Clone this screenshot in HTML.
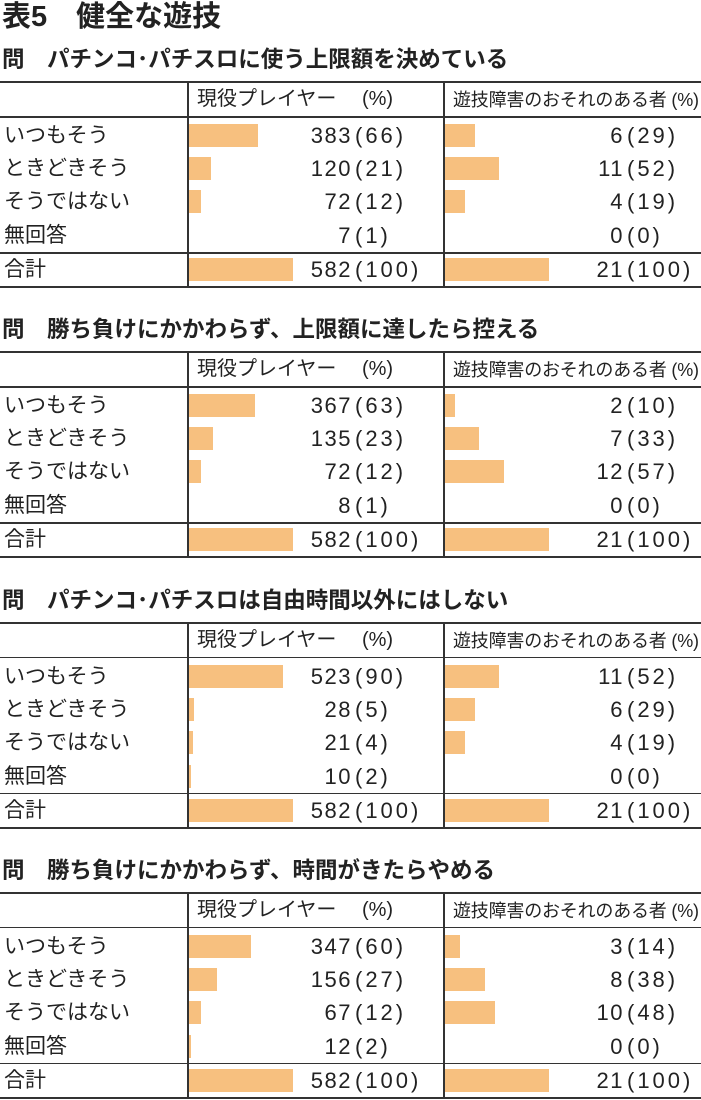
<!DOCTYPE html>
<html><head><meta charset="utf-8"><style>
body{margin:0;width:701px;height:1100px;background:#fff;position:relative;overflow:hidden;font-family:"Liberation Sans","Noto Sans CJK JP",sans-serif;color:#222}
.a{position:absolute;white-space:nowrap}
.h{position:absolute;left:0;width:701px;background:#333}
.v{position:absolute;width:1.5px;background:#333}
.bar{position:absolute;background:#f7c07f}
.t{font-size:21px;line-height:22px}
.n{font-size:22px;line-height:22px;letter-spacing:1.5px}
</style></head><body>
<div class="a" style="left:2px;top:1px;font-size:29px;font-weight:bold;line-height:32px">表5　健全な遊技</div>
<div id="c"></div>
<script>
var tables=[
["問　パチンコ･パチスロに使う上限額を決めている",[[383,66,6,29],[120,21,11,52],[72,12,4,19],[7,1,0,0]]],
["問　勝ち負けにかかわらず、上限額に達したら控える",[[367,63,2,10],[135,23,7,33],[72,12,12,57],[8,1,0,0]]],
["問　パチンコ･パチスロは自由時間以外にはしない",[[523,90,11,52],[28,5,6,29],[21,4,4,19],[10,2,0,0]]],
["問　勝ち負けにかかわらず、時間がきたらやめる",[[347,60,3,14],[156,27,8,38],[67,12,10,48],[12,2,0,0]]]];
var labels=["いつもそう","ときどきそう","そうではない","無回答"];
var h="";
tables.forEach(function(t,i){
 var o=i*270.3;
 h+='<div class="a" style="left:2px;top:'+(48+o)+'px;font-size:22.5px;line-height:24px;font-weight:bold">'+t[0]+'</div>';
 h+='<div class="h" style="top:'+(81+o)+'px;height:2px"></div>';
 h+='<div class="h" style="top:'+(116+o)+'px;height:1.5px"></div>';
 h+='<div class="h" style="top:'+(252+o)+'px;height:1.5px"></div>';
 h+='<div class="h" style="top:'+(286+o)+'px;height:2px"></div>';
 h+='<div class="v" style="left:187px;top:'+(81+o)+'px;height:207px"></div>';
 h+='<div class="v" style="left:443px;top:'+(81+o)+'px;height:207px"></div>';
 h+='<div class="a" style="left:197px;top:'+(88+o)+'px;font-size:20px;line-height:22px">現役プレイヤー　 (%)</div>';
 h+='<div class="a" style="left:453px;top:'+(89+o)+'px;font-size:18px;line-height:22px;letter-spacing:-0.2px">遊技障害のおそれのある者 (%)</div>';
 var rows=t[1].concat([[582,100,21,100]]);
 var ys=[136,169,202,236,270];
 rows.forEach(function(r,j){
  var y=ys[j]+o;
  var lab=j<4?labels[j]:"合計";
  h+='<div class="a t" style="left:4px;top:'+(y-11)+'px">'+lab+'</div>';
  if(r[1]>=2) h+='<div class="bar" style="left:189px;top:'+(y-12)+'px;height:23px;width:'+Math.max(2,r[1]*1.04)+'px"></div>';
  if(r[3]>0) h+='<div class="bar" style="left:445px;top:'+(y-12)+'px;height:23px;width:'+(r[3]*1.04)+'px"></div>';
  h+='<div class="a n" style="right:'+(701-352)+'px;top:'+(y-11)+'px">'+r[0]+'</div>';
  h+='<div class="a n" style="left:355px;top:'+(y-11)+'px;letter-spacing:3px">('+r[1]+')</div>';
  h+='<div class="a n" style="right:'+(701-624)+'px;top:'+(y-11)+'px">'+r[2]+'</div>';
  h+='<div class="a n" style="left:627px;top:'+(y-11)+'px;letter-spacing:3px">('+r[3]+')</div>';
 });
});
document.getElementById("c").innerHTML=h;
</script>
</body></html>
